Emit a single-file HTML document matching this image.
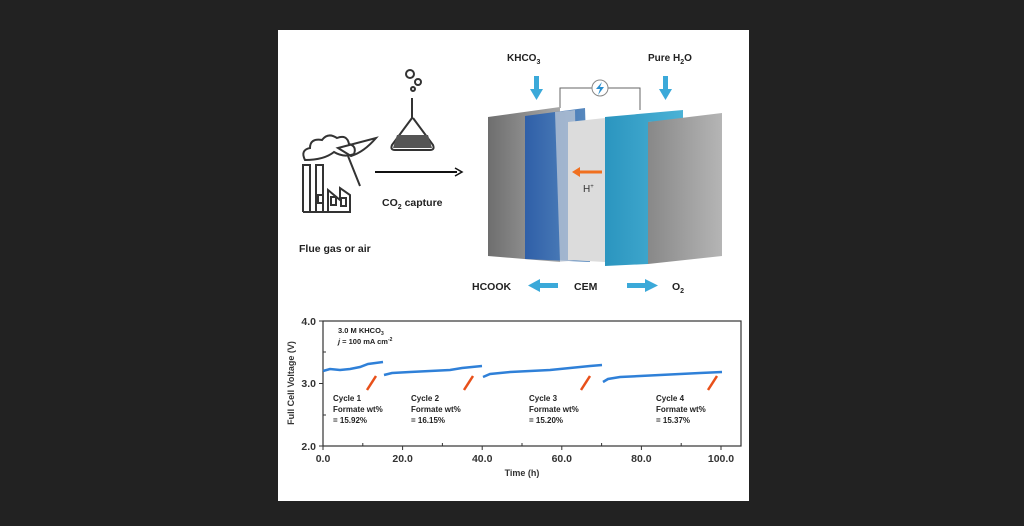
<!DOCTYPE html>
<html><head><style>
body{margin:0;background:#222;width:1024px;height:526px;overflow:hidden;font-family:"Liberation Sans",sans-serif}
svg{position:absolute;left:0;top:0}
</style></head><body>
<svg width="1024" height="526" viewBox="0 0 1024 526" font-family="Liberation Sans, sans-serif">
<defs>
<linearGradient id="g1" x1="0" x2="1"><stop offset="0" stop-color="#6e6e6e"/><stop offset="1" stop-color="#a8a8a8"/></linearGradient>
<linearGradient id="g2" x1="0" x2="1"><stop offset="0" stop-color="#888"/><stop offset="1" stop-color="#b5b5b5"/></linearGradient>
<linearGradient id="gb" x1="0" x2="1"><stop offset="0" stop-color="#2f5fa8"/><stop offset="1" stop-color="#5a8cc0"/></linearGradient>
<linearGradient id="gc" x1="0" x2="1"><stop offset="0" stop-color="#2b95bf"/><stop offset="1" stop-color="#4bb2d6"/></linearGradient>
</defs>
<rect x="278" y="30" width="471" height="471" fill="#fff"/>
<!-- factory icon -->
<g fill="none" stroke="#333" stroke-width="2">
<path d="M303 212 V165 H310 V212 M316 212 V165 H323 V212 M303 212 H350 V195 L340 188 V200 L328 190 V212"/>
<rect x="318" y="195" width="5" height="8"/><rect x="331" y="197" width="5" height="8"/><rect x="341" y="198" width="5" height="8"/>
<path d="M305 160 q-5 -10 5 -12 q0 -10 12 -8 q6 -8 15 -2 q10 -4 12 6 q8 2 5 10 q-10 4 -20 -2 q-10 8 -29 8z"/>
<path d="M338 148 l38 -10 q-12 14 -25 18 z M348 156 l12 30"/>
<!-- flask -->
<path d="M412 98 V118 L392 145 Q390 150 395 150 H430 Q435 150 433 145 L413 118"/>
<circle cx="410" cy="74" r="4"/><circle cx="418" cy="82" r="3"/><circle cx="413" cy="89" r="2"/>
</g>
<path d="M397 135 H428 L432 148 H393 Z" fill="#555"/>
<line x1="375" y1="172" x2="457" y2="172" stroke="#111" stroke-width="2"/>
<path d="M455 168 L462 172 L455 176" fill="none" stroke="#111" stroke-width="1.5"/>
<text x="382" y="206" font-size="10.5" font-weight="bold" fill="#222">CO<tspan font-size="7" dy="3">2</tspan><tspan dy="-3"> capture</tspan></text>
<text x="299" y="252" font-size="10.5" font-weight="bold" fill="#222">Flue gas or air</text>
<!-- top labels -->
<text x="507" y="61" font-size="10" font-weight="bold" fill="#222">KHCO<tspan font-size="7" dy="3">3</tspan></text>
<text x="648" y="61" font-size="10" font-weight="bold" fill="#222">Pure H<tspan font-size="7" dy="3">2</tspan><tspan dy="-3">O</tspan></text>
<g fill="#3ba9d9"><rect x="534" y="76" width="5" height="14"/><path d="M530 89 H543 L536.5 100Z"/><rect x="663" y="76" width="5" height="14"/><path d="M659 89 H672 L665.5 100Z"/></g>
<path d="M560 108 V88 H640 V110" fill="none" stroke="#666" stroke-width="1"/>
<circle cx="600" cy="88" r="8" fill="#fff" stroke="#888"/>
<path d="M602 82 L596 89 H600 L598 95 L604 87 H600Z" fill="#2a8fd0"/>
<!-- plates -->
<polygon points="488,117 560,107 560,262 488,256" fill="url(#g1)"/>
<polygon points="525,116 585,108 590,262 525,259" fill="url(#gb)"/>
<polygon points="555,112 575,110 578,260 560,262" fill="#c7ced8" opacity="0.7"/>
<polygon points="568,122 605,118 605,262 568,260" fill="#dcdcdc"/>
<polygon points="605,117 683,110 683,120 648,122 648,264 605,266" fill="url(#gc)"/>
<polygon points="648,122 722,113 722,256 648,264" fill="url(#g2)"/>
<line x1="602" y1="172" x2="578" y2="172" stroke="#f07020" stroke-width="3"/>
<path d="M580 167 L572 172 L580 177Z" fill="#f07020"/>
<text x="583" y="192" font-size="10" fill="#333">H<tspan font-size="6" dy="-4">+</tspan></text>
<!-- bottom labels -->
<text x="472" y="290" font-size="10.5" font-weight="bold" fill="#222">HCOOK</text>
<text x="574" y="290" font-size="10.5" font-weight="bold" fill="#222">CEM</text>
<text x="672" y="290" font-size="10.5" font-weight="bold" fill="#222">O<tspan font-size="7" dy="3">2</tspan></text>
<g fill="#3ba9d9"><rect x="538" y="283" width="20" height="5"/><path d="M540 279 V292 L528 285.5Z"/><rect x="627" y="283" width="20" height="5"/><path d="M645 279 V292 L658 285.5Z"/></g>
<!-- chart -->
<rect x="323" y="321" width="418" height="125" fill="none" stroke="#333" stroke-width="1.2"/>
<g stroke="#333" stroke-width="1">
<line x1="319" y1="321" x2="323" y2="321"/><line x1="319" y1="383.5" x2="323" y2="383.5"/><line x1="319" y1="446" x2="323" y2="446"/>
<line x1="323" y1="352" x2="326" y2="352"/><line x1="323" y1="415" x2="326" y2="415"/>
<line x1="323" y1="446" x2="323" y2="450"/><line x1="402.6" y1="446" x2="402.6" y2="450"/><line x1="482.2" y1="446" x2="482.2" y2="450"/><line x1="561.8" y1="446" x2="561.8" y2="450"/><line x1="641.4" y1="446" x2="641.4" y2="450"/><line x1="721" y1="446" x2="721" y2="450"/>
<line x1="362.8" y1="446" x2="362.8" y2="443"/><line x1="442.4" y1="446" x2="442.4" y2="443"/><line x1="522" y1="446" x2="522" y2="443"/><line x1="601.6" y1="446" x2="601.6" y2="443"/><line x1="681.2" y1="446" x2="681.2" y2="443"/>
</g>
<g font-size="10.5" font-weight="bold" fill="#333">
<text x="316" y="325" text-anchor="end">4.0</text><text x="316" y="387" text-anchor="end">3.0</text><text x="316" y="450" text-anchor="end">2.0</text>
<text x="323" y="462" text-anchor="middle">0.0</text><text x="402.6" y="462" text-anchor="middle">20.0</text><text x="482.2" y="462" text-anchor="middle">40.0</text><text x="561.8" y="462" text-anchor="middle">60.0</text><text x="641.4" y="462" text-anchor="middle">80.0</text><text x="721" y="462" text-anchor="middle">100.0</text>
</g>
<text x="522" y="476" font-size="9" font-weight="bold" fill="#333" text-anchor="middle">Time (h)</text>
<text transform="translate(294,383) rotate(-90)" font-size="9" font-weight="bold" fill="#333" text-anchor="middle">Full Cell Voltage (V)</text>
<text x="338" y="333" font-size="7.5" font-weight="bold" fill="#222">3.0 M KHCO<tspan font-size="5" dy="2">3</tspan></text>
<text x="338" y="344" font-size="7.5" font-weight="bold" fill="#222"><tspan font-style="italic">j</tspan> = 100 mA cm<tspan font-size="5" dy="-3">-2</tspan></text>
<g fill="none" stroke="#2f80d8" stroke-width="2.5">
<path d="M323 371 L330 369 L340 370 L350 369 L360 367 L368 364 L383 362"/>
<path d="M384 375 L392 373 L410 372 L430 371 L450 370 L462 368 L482 366"/>
<path d="M483 377 L490 374 L510 372 L530 371 L550 370 L570 368 L590 366 L602 365"/>
<path d="M603 382 L608 379 L620 377 L640 376 L660 375 L680 374 L700 373 L722 372"/>
</g>
<g stroke="#e8501a" stroke-width="2.5">
<line x1="367" y1="390" x2="376" y2="376"/><line x1="464" y1="390" x2="473" y2="376"/><line x1="581" y1="390" x2="590" y2="376"/><line x1="708" y1="390" x2="717" y2="376"/>
</g>
<g font-size="8" font-weight="bold" fill="#222">
<text x="333" y="401">Cycle 1</text><text x="333" y="412">Formate wt%</text><text x="333" y="423">= 15.92%</text>
<text x="411" y="401">Cycle 2</text><text x="411" y="412">Formate wt%</text><text x="411" y="423">= 16.15%</text>
<text x="529" y="401">Cycle 3</text><text x="529" y="412">Formate wt%</text><text x="529" y="423">= 15.20%</text>
<text x="656" y="401">Cycle 4</text><text x="656" y="412">Formate wt%</text><text x="656" y="423">= 15.37%</text>
</g>
</svg>
</body></html>
